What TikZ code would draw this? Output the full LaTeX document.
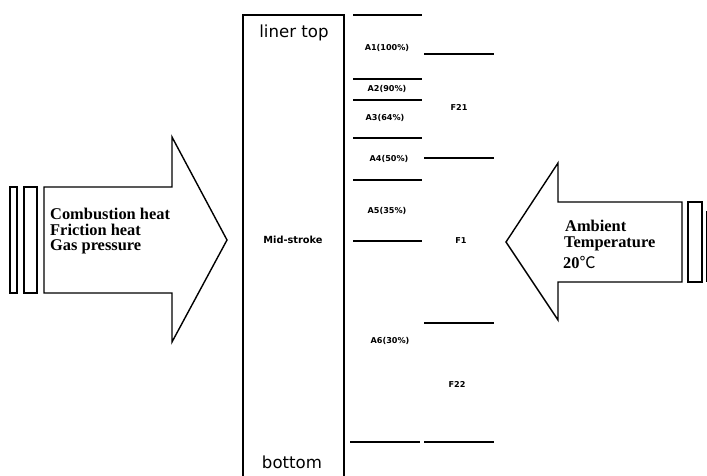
\documentclass[tikz,border=0pt]{standalone}
\usepackage{fontspec}
\setmainfont{Liberation Serif}
\setsansfont{DejaVu Sans}
\newfontfamily\cjk{Noto Sans CJK SC}
\begin{document}
\begin{tikzpicture}[x=1pt,y=-1pt,
  wall/.style={line width=1.5pt, line join=miter},
  divider/.style={line width=1.5pt},
  zonelabel/.style={font=\sffamily\bfseries\fontsize{8.1}{9}\selectfont, inner sep=0pt},
  endlabel/.style={font=\sffamily\fontsize{16.6}{18}\selectfont, inner sep=0pt, anchor=base},
  loadtext/.style={font=\bfseries\fontsize{16.4}{17}\selectfont, inner sep=0pt, anchor=base west},
  bigarrow/.style={line width=1.4pt, line join=miter, fill=white},
  bar/.style={line width=1.4pt}]
\useasboundingbox (0,0) rectangle (707,476);

% cylinder liner, open at the bottom
\draw[wall] (243,476) -- (243,15) -- (344,15) -- (344,476);
\node[endlabel] (top) at (294,38) {liner top};
\node[endlabel] (bot) at (292,468) {bottom};
\node[zonelabel, font=\sffamily\bfseries\fontsize{9.8}{10}\selectfont] (mid) at (293,240) {Mid-stroke};

% inner column of band limits
\foreach \yy in {15,79,100,138,180,241}
  \draw[divider] (353,\yy) -- (422,\yy);
\draw[divider] (350,442) -- (420,442);

% outer column of band limits
\foreach \yy in {54,158,323,442}
  \draw[divider] (424,\yy) -- (494,\yy);

% band labels
\node[zonelabel] (a1) at (387,48) {A1(100\%)};
\node[zonelabel] (a2) at (387,89) {A2(90\%)};
\node[zonelabel] (a3) at (385,118) {A3(64\%)};
\node[zonelabel] (a4) at (389,159) {A4(50\%)};
\node[zonelabel] (a5) at (387,211) {A5(35\%)};
\node[zonelabel] (a6) at (390,341) {A6(30\%)};
\node[zonelabel] (f21) at (459,107) {F21};
\node[zonelabel] (f1) at (461,241) {F1};
\node[zonelabel] (f22) at (457,384) {F22};

% inner load arrow (combustion side)
\draw[bigarrow] (44,187) -- (172,187) -- (172,137) -- (227,240) -- (172,342)
  -- (172,293) -- (44,293) -- cycle;
\draw[bar] (10,187) rectangle (17,293);
\draw[bar] (24,187) rectangle (37,293);
\node[loadtext] (comb) at (50,219) {Combustion heat};
\node[loadtext] (fric) at (50,235) {Friction heat};
\node[loadtext] (gas)  at (50,250.5) {Gas pressure};

% outer load arrow (ambient side)
\draw[bigarrow] (682,202) -- (558,202) -- (558,163) -- (506,242) -- (558,320)
  -- (558,282) -- (682,282) -- cycle;
\draw[bar] (688,202) rectangle (702,282);
\draw[line width=1pt] (706,211) -- (706,282);
\node[loadtext] (amb) at (565,231) {Ambient};
\node[loadtext] (temp) at (564,247) {Temperature};
\node[loadtext] (deg) at (563,268) {20{\cjk\mdseries\fontsize{16}{17}\selectfont ℃}};
\end{tikzpicture}
\end{document}
